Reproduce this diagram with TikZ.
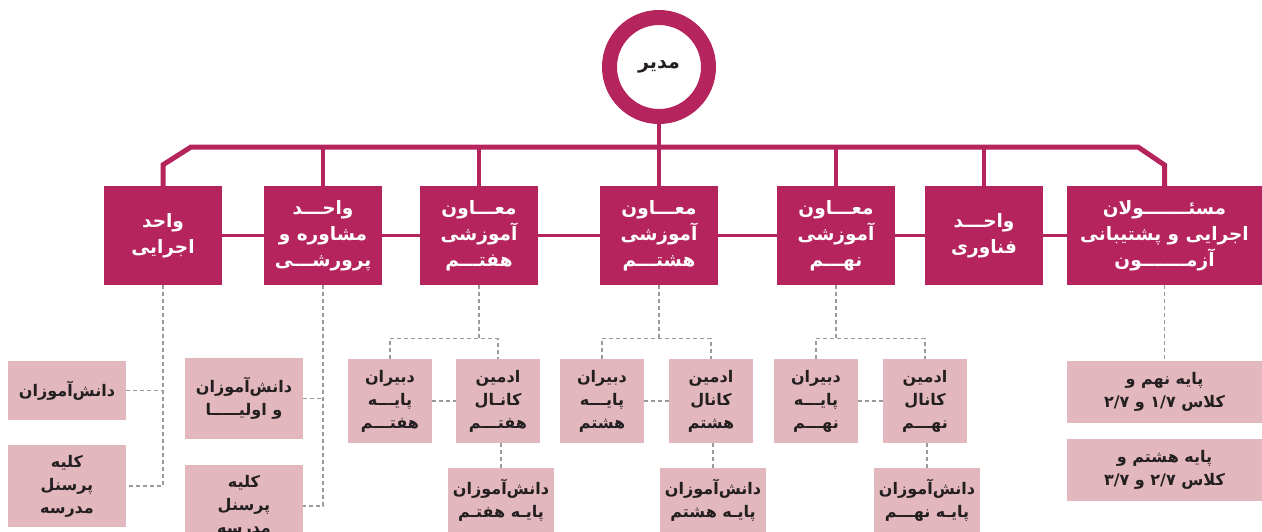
\documentclass[tikz,border=0pt]{standalone}
\usepackage{fontspec}
\newfontfamily\arabicfont[Script=Arabic]{DejaVu Sans}
\TeXXeTstate=1
\definecolor{plum}{HTML}{B5245C}
\definecolor{blush}{HTML}{E2B7BD}
\definecolor{ink}{HTML}{231F20}
\definecolor{dashgray}{HTML}{9A9A9A}
\newcommand{\rl}[1]{\beginR #1\endR}

\begin{document}
\begin{tikzpicture}[x=1pt,y=-1pt,
  unit/.style={fill=plum,text=white,minimum width=118pt,minimum height=99pt,inner sep=0pt,align=center,font=\arabicfont\bfseries\fontsize{18.5}{26}\selectfont},
  leaf/.style={fill=blush,text=ink,minimum width=84pt,minimum height=84pt,inner sep=0pt,align=center,font=\arabicfont\bfseries\fontsize{16}{23}\selectfont},
  trunk/.style={plum,line width=5pt},
  link/.style={plum,line width=3.5pt},
  grayline/.style={dashgray,line width=1.3pt,dash pattern=on 4pt off 3pt}]
  \useasboundingbox (0,0) rectangle (1262,531);
  % manager
  \node[circle,draw=plum,line width=15pt,minimum size=99pt,inner sep=0pt,text=ink,font=\arabicfont\bfseries\fontsize{19}{22}\selectfont] (M) at (659,67) {\rl{مدیر}};
  % second row, units
  \node[unit] (E)  at (163,235.5) {\rl{واحد}\\\rl{اجرایی}};
  \node[unit] (C)  at (323,235.5) {\rl{واحـــد}\\\rl{مشاوره و}\\\rl{پرورشـــی}};
  \node[unit] (V7) at (479,235.5) {\rl{معـــاون}\\\rl{آموزشی}\\\rl{هفتـــم}};
  \node[unit] (V8) at (659,235.5) {\rl{معـــاون}\\\rl{آموزشی}\\\rl{هشتـــم}};
  \node[unit] (V9) at (836,235.5) {\rl{معـــاون}\\\rl{آموزشی}\\\rl{نهـــم}};
  \node[unit] (F)  at (984,235.5) {\rl{واحـــد}\\\rl{فناوری}};
  \node[unit,minimum width=195pt] (A) at (1164.5,235.5) {\rl{مسئـــــــولان}\\\rl{اجرایی و پشتیبانی}\\\rl{آزمـــــــون}};
  % left-hand side leaves
  \node[leaf,minimum width=118pt,minimum height=59pt] (E1) at (67,390.5) {\rl{دانش‌آموزان}};
  \node[leaf,minimum width=118pt,minimum height=82pt] (E2) at (67,486) {\rl{کلیه}\\\rl{پرسنل}\\\rl{مدرسه}};
  \node[leaf,minimum width=118pt,minimum height=81pt] (C1) at (244,398.5) {\rl{دانش‌آموزان}\\\rl{و اولیـــــا}};
  \node[leaf,minimum width=118pt,minimum height=82pt] (C2) at (244,506) {\rl{کلیه}\\\rl{پرسنل}\\\rl{مدرسه}};
  % grade leaves
  \node[leaf] (D7) at (390,401) {\rl{دبیران}\\\rl{پایـــه}\\\rl{هفتـــم}};
  \node[leaf] (K7) at (498,401) {\rl{ادمین}\\\rl{کانـال}\\\rl{هفتـــم}};
  \node[leaf,minimum width=106pt,minimum height=65pt] (S7) at (501,500.5) {\rl{دانش‌آموزان}\\\rl{پایـه هفتـم}};
  \node[leaf] (D8) at (602,401) {\rl{دبیران}\\\rl{پایـــه}\\\rl{هشتم}};
  \node[leaf] (K8) at (711,401) {\rl{ادمین}\\\rl{کانال}\\\rl{هشتم}};
  \node[leaf,minimum width=106pt,minimum height=65pt] (S8) at (713,500.5) {\rl{دانش‌آموزان}\\\rl{پایـه هشتم}};
  \node[leaf] (D9) at (816,401) {\rl{دبیران}\\\rl{پایـــه}\\\rl{نهـــم}};
  \node[leaf] (K9) at (925,401) {\rl{ادمین}\\\rl{کانال}\\\rl{نهـــم}};
  \node[leaf,minimum width=106pt,minimum height=65pt] (S9) at (927,500.5) {\rl{دانش‌آموزان}\\\rl{پایـه نهـــم}};
  % right-hand side leaves
  \node[leaf,minimum width=195pt,minimum height=62pt] (A1) at (1164.5,392) {\rl{پایه نهم و}\\\rl{کلاس \beginL۱/۷\endL{} و \beginL۲/۷\endL}};
  \node[leaf,minimum width=195pt,minimum height=62pt] (A2) at (1164.5,470) {\rl{پایه هشتم و}\\\rl{کلاس \beginL۲/۷\endL{} و \beginL۳/۷\endL}};
  % solid lines
  \coordinate (bl) at (191,147);
  \coordinate (br) at (1138,147);
  \draw[trunk] (E.north) -- ++(0,-21) -- (bl) -- (br) -- ++(26.5,18) -- (A.north);
  \draw[link] (M.south) -- (M.south |- bl);
  \draw[link] (C.north) -- (C.north |- bl);
  \draw[link] (V7.north) -- (V7.north |- bl);
  \draw[link] (V8.north) -- (V8.north |- bl);
  \draw[link] (V9.north) -- (V9.north |- bl);
  \draw[link] (F.north) -- (F.north |- bl);
  \draw[link,line width=3pt] (E.east) -- (C.west) (C.east) -- (V7.west) (V7.east) -- (V8.west)
    (V8.east) -- (V9.west) (V9.east) -- (F.west) (F.east) -- (A.west);
  % dashed lines
  \draw[grayline] (E.south) |- (E2.east);
  \draw[grayline] (E1.east) -- (E1.east -| E.south);
  \draw[grayline] (C.south) |- (C2.east);
  \draw[grayline] (C1.east) -- (C1.east -| C.south);
  \draw[grayline] (V7.south) -- ++(0,53) coordinate (k7);
  \draw[grayline] (D7.north) |- (k7) -| (K7.north);
  \draw[grayline] (D7.east) -- (K7.west);
  \draw[grayline] (S7.north) -- (S7.north |- K7.south);
  \draw[grayline] (V8.south) -- ++(0,53) coordinate (k8);
  \draw[grayline] (D8.north) |- (k8) -| (K8.north);
  \draw[grayline] (D8.east) -- (K8.west);
  \draw[grayline] (S8.north) -- (S8.north |- K8.south);
  \draw[grayline] (V9.south) -- ++(0,53) coordinate (k9);
  \draw[grayline] (D9.north) |- (k9) -| (K9.north);
  \draw[grayline] (D9.east) -- (K9.west);
  \draw[grayline] (S9.north) -- (S9.north |- K9.south);
  \draw[grayline] (A.south) -- (A1.north);
\end{tikzpicture}
\end{document}
